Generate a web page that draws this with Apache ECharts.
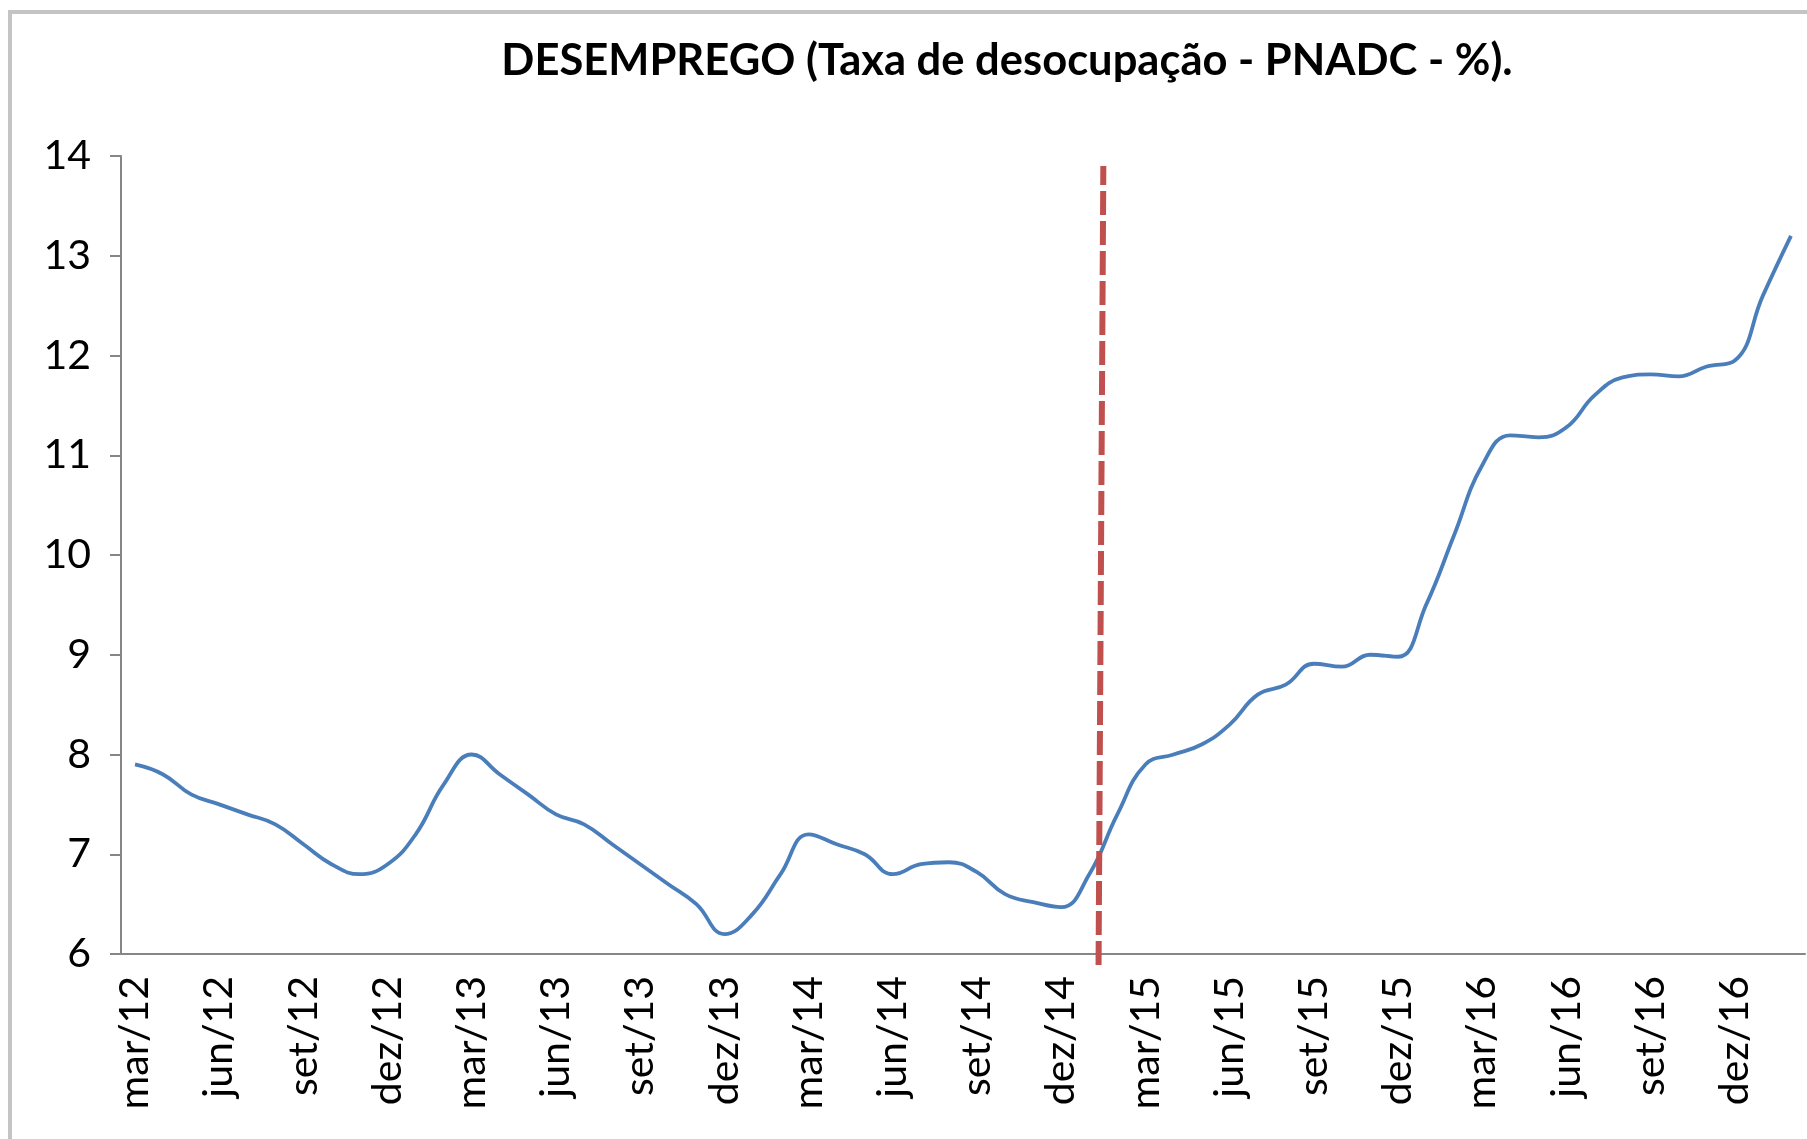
<!DOCTYPE html>
<html>
<head>
<meta charset="utf-8">
<title>Desemprego PNADC</title>
<script src="https://cdn.jsdelivr.net/npm/echarts@6/dist/echarts.min.js"></script>
<style>
    html, body { margin: 0; padding: 0; background: #fff; }
    #main { width: 1807px; height: 1139px; }
</style>
</head>
<body>
<div id="main"></div>
<script>
// meses (trimestre movel) de mar/12 a fev/17
var meses = [
    'mar/12','abr/12','mai/12','jun/12','jul/12','ago/12','set/12','out/12','nov/12','dez/12',
    'jan/13','fev/13','mar/13','abr/13','mai/13','jun/13','jul/13','ago/13','set/13','out/13','nov/13','dez/13',
    'jan/14','fev/14','mar/14','abr/14','mai/14','jun/14','jul/14','ago/14','set/14','out/14','nov/14','dez/14',
    'jan/15','fev/15','mar/15','abr/15','mai/15','jun/15','jul/15','ago/15','set/15','out/15','nov/15','dez/15',
    'jan/16','fev/16','mar/16','abr/16','mai/16','jun/16','jul/16','ago/16','set/16','out/16','nov/16','dez/16',
    'jan/17','fev/17'
];

// taxa de desocupacao (%)
var taxa = [
    7.9, 7.8, 7.6, 7.5, 7.4, 7.3, 7.1, 6.9, 6.8, 6.9,
    7.2, 7.7, 8.0, 7.8, 7.6, 7.4, 7.3, 7.1, 6.9, 6.7, 6.5, 6.2,
    6.4, 6.8, 7.2, 7.1, 7.0, 6.8, 6.9, 6.92, 6.82, 6.6, 6.52, 6.47,
    6.8, 7.4, 7.9, 8.0, 8.1, 8.3, 8.6, 8.7, 8.91, 8.88, 9.0, 8.98,
    9.5, 10.2, 10.9, 11.2, 11.18, 11.28, 11.6, 11.78, 11.81, 11.79, 11.89, 11.95,
    12.6, 13.2
];

// linha tracejada vermelha (posicao em meses a partir de mar/12, e altura)
var corteX = [34.83, 35.0];
var corteY = [5.89, 13.9];

var yTicks = { min: 6, max: 14, interval: 1 };

var fonte = 'Lato, "Open Sans", sans-serif';

option = {
    backgroundColor: '#fff',
    animation: false,
    title: {
        text: 'DESEMPREGO (Taxa de desocupação - PNADC - %).',
        left: 1002,
        top: 30,
        textAlign: 'center',
        textStyle: {
            fontFamily: fonte,
            fontWeight: 'bold',
            fontSize: 43.5,
            lineHeight: 52,
            color: '#000'
        }
    },
    graphic: [
        {
            type: 'rect',
            shape: { x: 10, y: 12, width: 1900, height: 1300 },
            style: { fill: 'none', stroke: '#c4c4c4', lineWidth: 4 },
            silent: true
        }
    ],
    grid: {
        left: 121,
        right: 2,
        top: 156,
        bottom: 185
    },
    xAxis: [
        {
            type: 'category',
            data: meses,
            boundaryGap: true,
            axisLine: {
                lineStyle: { color: '#868686', width: 2 }
            },
            axisTick: {
                interval: 2,
                length: 11,
                lineStyle: { color: '#868686', width: 2 }
            },
            axisLabel: {
                interval: 2,
                rotate: 90,
                margin: 22,
                fontFamily: fonte,
                fontSize: 41,
                color: '#000'
            },
            splitLine: { show: false }
        },
        {
            type: 'value',
            min: 0,
            max: 60,
            show: false
        }
    ],
    yAxis: {
        type: 'value',
        min: yTicks.min,
        max: yTicks.max,
        interval: yTicks.interval,
        axisLine: {
            show: true,
            lineStyle: { color: '#868686', width: 2 }
        },
        axisTick: {
            show: true,
            length: 11,
            lineStyle: { color: '#868686', width: 2 }
        },
        axisLabel: {
            margin: 30,
            fontFamily: fonte,
            fontSize: 41,
            color: '#000'
        },
        splitLine: { show: false }
    },
    series: [
        {
            name: 'Taxa de desocupação',
            type: 'line',
            data: taxa,
            smooth: 0.45,
            showSymbol: false,
            lineStyle: {
                color: '#4A7EBB',
                width: 3.8
            },
            z: 3
        },
        {
            name: 'corte',
            type: 'line',
            xAxisIndex: 1,
            data: [[corteX[0], corteY[0]], [corteX[1], corteY[1]]],
            showSymbol: false,
            clip: false,
            lineStyle: {
                color: '#C0504D',
                width: 6,
                type: [24, 6]
            },
            z: 4
        }
    ]
};

// inicializa o grafico
var myChart = echarts.init(document.getElementById('main'));
myChart.setOption(option);
</script>
</body>
</html>
